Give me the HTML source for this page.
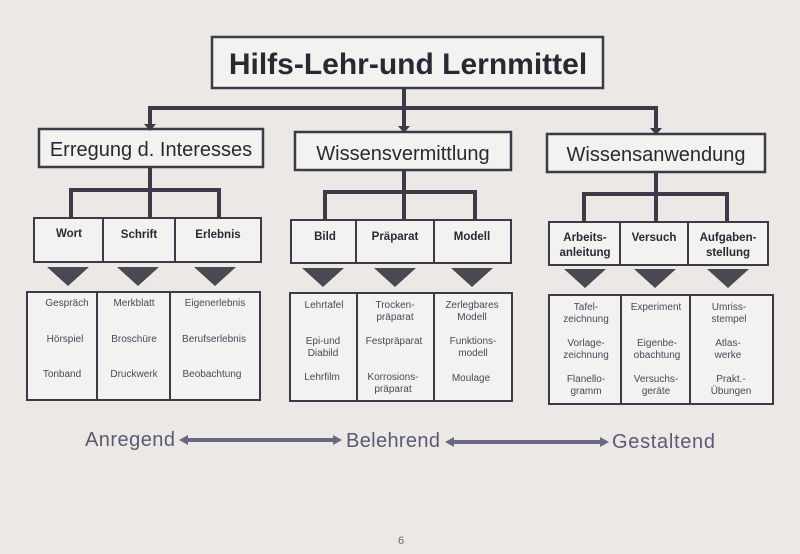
<!DOCTYPE html>
<html><head><meta charset="utf-8"><style>
html,body{margin:0;padding:0;background:#ebe8e6;}
svg{display:block}
text{font-family:"Liberation Sans",sans-serif;}
</style></head><body>
<svg width="800" height="554" viewBox="0 0 800 554" xmlns="http://www.w3.org/2000/svg">
<rect width="800" height="554" fill="#ebe8e6"/>
<g fill="none" stroke="#3c3a48" stroke-width="2.5">
<rect x="212" y="37" width="391" height="51" fill="#f4f2f1"/>
<rect x="39" y="129" width="224" height="38" fill="#f4f2f1"/>
<rect x="295" y="132" width="216" height="38" fill="#f4f2f1"/>
<rect x="547" y="134" width="218" height="38" fill="#f4f2f1"/>
</g>
<g fill="none" stroke="#3c3a48" stroke-width="4">
<path d="M404 88 V108 M150 108 H657 M150 106 V126 M404 108 V128 M656 106 V130"/>
<path d="M150 167 V218 M71 190 H219 M71 188 V218 M219 188 V218"/>
<path d="M404 170 V220 M325 192 H475 M325 190 V220 M475 190 V220"/>
<path d="M656 172 V222 M584 194 H727 M584 192 V222 M727 192 V222"/>
</g>
<g fill="#3c3a48">
<path d="M144 124 L156 124 L150 131Z M398 126 L410 126 L404 133Z M650 128 L662 128 L656 135Z"/>
</g>
<g fill="#f4f2f1" stroke="#3c3a48" stroke-width="2">
<rect x="34" y="218" width="227" height="44"/>
<rect x="291" y="220" width="220" height="43"/>
<rect x="549" y="222" width="219" height="43"/>
<rect x="27" y="292" width="233" height="108"/>
<rect x="290" y="293" width="222" height="108"/>
<rect x="549" y="295" width="224" height="109"/>
</g>
<g stroke="#3c3a48" stroke-width="2">
<path d="M103 218 V262 M175 218 V262 M356 220 V263 M434 220 V263 M620 222 V265 M688 222 V265"/>
<path d="M97 292 V400 M170 292 V400 M357 293 V401 M434 293 V401 M621 295 V404 M690 295 V404"/>
</g>
<g fill="#4a4850">
<path d="M47 267 H89 L68 286Z M117 267 H159 L138 286Z M194 267 H236 L215 286Z"/>
<path d="M302 268 H344 L323 287Z M374 268 H416 L395 287Z M451 268 H493 L472 287Z"/>
<path d="M564 269 H606 L585 288Z M634 269 H676 L655 288Z M707 269 H749 L728 288Z"/>
</g>
<g fill="#2a2832" text-anchor="middle">
<text x="408" y="74" font-size="30" font-weight="bold">Hilfs-Lehr-und Lernmittel</text>
<text x="151" y="156" font-size="20">Erregung d. Interesses</text>
<text x="403" y="160" font-size="20">Wissensvermittlung</text>
<text x="656" y="161" font-size="20">Wissensanwendung</text>
</g>
<g fill="#2a2832" text-anchor="middle" font-size="11.5" font-weight="bold">
<text x="69" y="237">Wort</text><text x="139" y="238">Schrift</text><text x="218" y="238">Erlebnis</text>
<text x="325" y="240">Bild</text><text x="395" y="240">Präparat</text><text x="472" y="240">Modell</text>
<text x="585" y="241">Arbeits-</text><text x="585" y="256">anleitung</text>
<text x="654" y="241">Versuch</text>
<text x="728" y="241">Aufgaben-</text><text x="728" y="256">stellung</text>
</g>
<g fill="#4a4858" text-anchor="middle" font-size="10">
<text x="67" y="306">Gespräch</text><text x="134" y="306">Merkblatt</text><text x="215" y="306">Eigenerlebnis</text>
<text x="65" y="342">Hörspiel</text><text x="134" y="342">Broschüre</text><text x="214" y="342">Berufserlebnis</text>
<text x="62" y="377">Tonband</text><text x="134" y="377">Druckwerk</text><text x="212" y="377">Beobachtung</text>
<text x="324" y="308">Lehrtafel</text><text x="395" y="308">Trocken-</text><text x="395" y="320">präparat</text>
<text x="472" y="308">Zerlegbares</text><text x="472" y="320">Modell</text>
<text x="323" y="344">Epi-und</text><text x="323" y="356">Diabild</text><text x="394" y="344">Festpräparat</text>
<text x="473" y="344">Funktions-</text><text x="473" y="356">modell</text>
<text x="322" y="380">Lehrfilm</text><text x="393" y="380">Korrosions-</text><text x="393" y="392">präparat</text>
<text x="471" y="381">Moulage</text>
<text x="586" y="310">Tafel-</text><text x="586" y="322">zeichnung</text><text x="656" y="310">Experiment</text>
<text x="729" y="310">Umriss-</text><text x="729" y="322">stempel</text>
<text x="586" y="346">Vorlage-</text><text x="586" y="358">zeichnung</text>
<text x="657" y="346">Eigenbe-</text><text x="657" y="358">obachtung</text>
<text x="728" y="346">Atlas-</text><text x="728" y="358">werke</text>
<text x="586" y="382">Flanello-</text><text x="586" y="394">gramm</text>
<text x="656" y="382">Versuchs-</text><text x="656" y="394">geräte</text>
<text x="731" y="382">Prakt.-</text><text x="731" y="394">Übungen</text>
</g>
<g fill="#5c5a74" font-size="20">
<text x="85" y="446" textLength="90">Anregend</text>
<text x="346" y="447" textLength="94">Belehrend</text>
<text x="612" y="448" textLength="103">Gestaltend</text>
</g>
<g stroke="#6a6880" stroke-width="4" fill="#6a6880">
<path d="M186 440 H336"/><path d="M452 442 H602"/>
</g>
<g fill="#6a6880">
<path d="M179 440 L188 435 L188 445Z M342 440 L333 435 L333 445Z"/>
<path d="M445 442 L454 437 L454 447Z M609 442 L600 437 L600 447Z"/>
</g>
<text x="398" y="544" font-size="11" fill="#6a6870" font-family="Liberation Serif,serif">6</text>
</svg>
</body></html>
